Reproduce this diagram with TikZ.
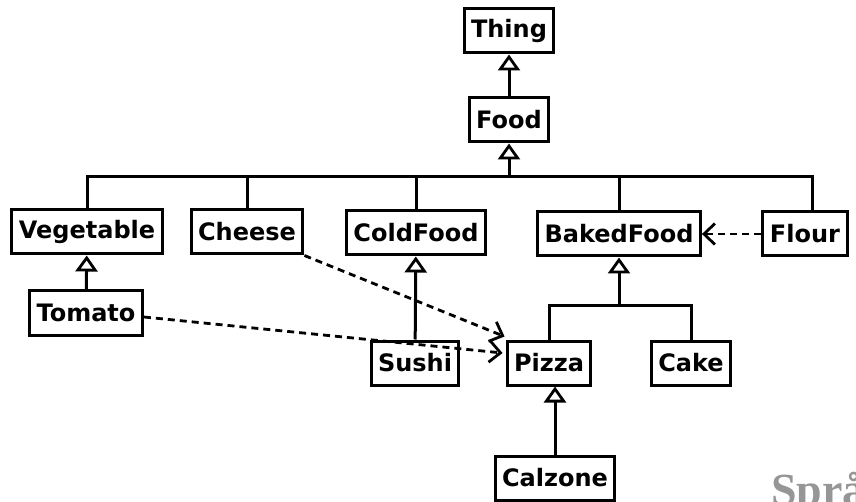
\documentclass[tikz,border=0pt]{standalone}
\usepackage{fontspec}
\setmainfont{DejaVu Sans}
\newfontfamily\markfont{Liberation Serif}
\usetikzlibrary{arrows.meta}
\definecolor{MarkGray}{RGB}{150,150,150}
\tikzset{
	cls/.style={draw=black,line width=3pt,fill=white,inner xsep=7pt,inner ysep=0pt,
		minimum height=44pt,font=\fontsize{24}{28}\selectfont\bfseries},
	isa/.style={draw=black,line width=3pt,-{Triangle[open,length=16pt,width=22pt,fill=white,line width=2.8pt]}},
	link/.style={draw=black,line width=3pt},
	uses/.style={draw=black,line width=2.8pt,dash pattern=on 7pt off 5pt,
		-{Straight Barb[length=11pt,width=21pt,line width=2.8pt]}},
}

\begin{document}
\begin{tikzpicture}[x=1pt,y=-1pt]
	\useasboundingbox (0,0) rectangle (856,502);
	\clip (0,0) rectangle (856,502);
	% classes
	\node[cls] (thing) at (509,31) {Thing};
	\node[cls] (food) at (509,120) {Food};
	\node[cls] (vegetable) at (87,232) {Vegetable};
	\node[cls] (cheese) at (247,232) {Cheese};
	\node[cls] (coldfood) at (416,233) {ColdFood};
	\node[cls] (bakedfood) at (619,234) {BakedFood};
	\node[cls] (flour) at (805,234) {Flour};
	\node[cls] (tomato) at (86,313) {Tomato};
	\node[cls] (sushi) at (415,363) {Sushi};
	\node[cls] (pizza) at (549,363) {Pizza};
	\node[cls] (cake) at (691,363) {Cake};
	\node[cls] (calzone) at (555,478) {Calzone};
	\coordinate (bus) at (509,177);
	\coordinate (bakedbus) at (619,306);
	% is-a
	\draw[isa] (food) -- (thing);
	\draw[isa] (bus) -- (food);
	\foreach \c in {vegetable,cheese,coldfood,bakedfood}
		\draw[link] (\c.north) |- (bus);
	\draw[link] ([xshift=7pt]flour.north) |- (bus);
	\draw[isa] (tomato) -- (vegetable);
	\draw[isa] (sushi) -- (coldfood);
	\draw[isa] (bakedbus) -- (bakedfood);
	\draw[link] (pizza.north) |- (bakedbus);
	\draw[link] (cake.north) |- (bakedbus);
	\draw[isa] (calzone) -- ([xshift=6pt]pizza.south);
	% dependencies
	\draw[uses] (cheese.south east) -- ([xshift=-1pt,yshift=3pt]pizza.north west);
	\draw[uses] ([yshift=-4pt]tomato.east) -- ([xshift=-3pt,yshift=10pt]pizza.west);
	\draw[uses] (flour) -- (bakedfood);
	% watermark
	\node[anchor=base west,inner sep=0pt,text=MarkGray,font=\markfont\bfseries\fontsize{46}{46}\selectfont] (mark) at (771,505) {Språ};
\end{tikzpicture}
\end{document}
